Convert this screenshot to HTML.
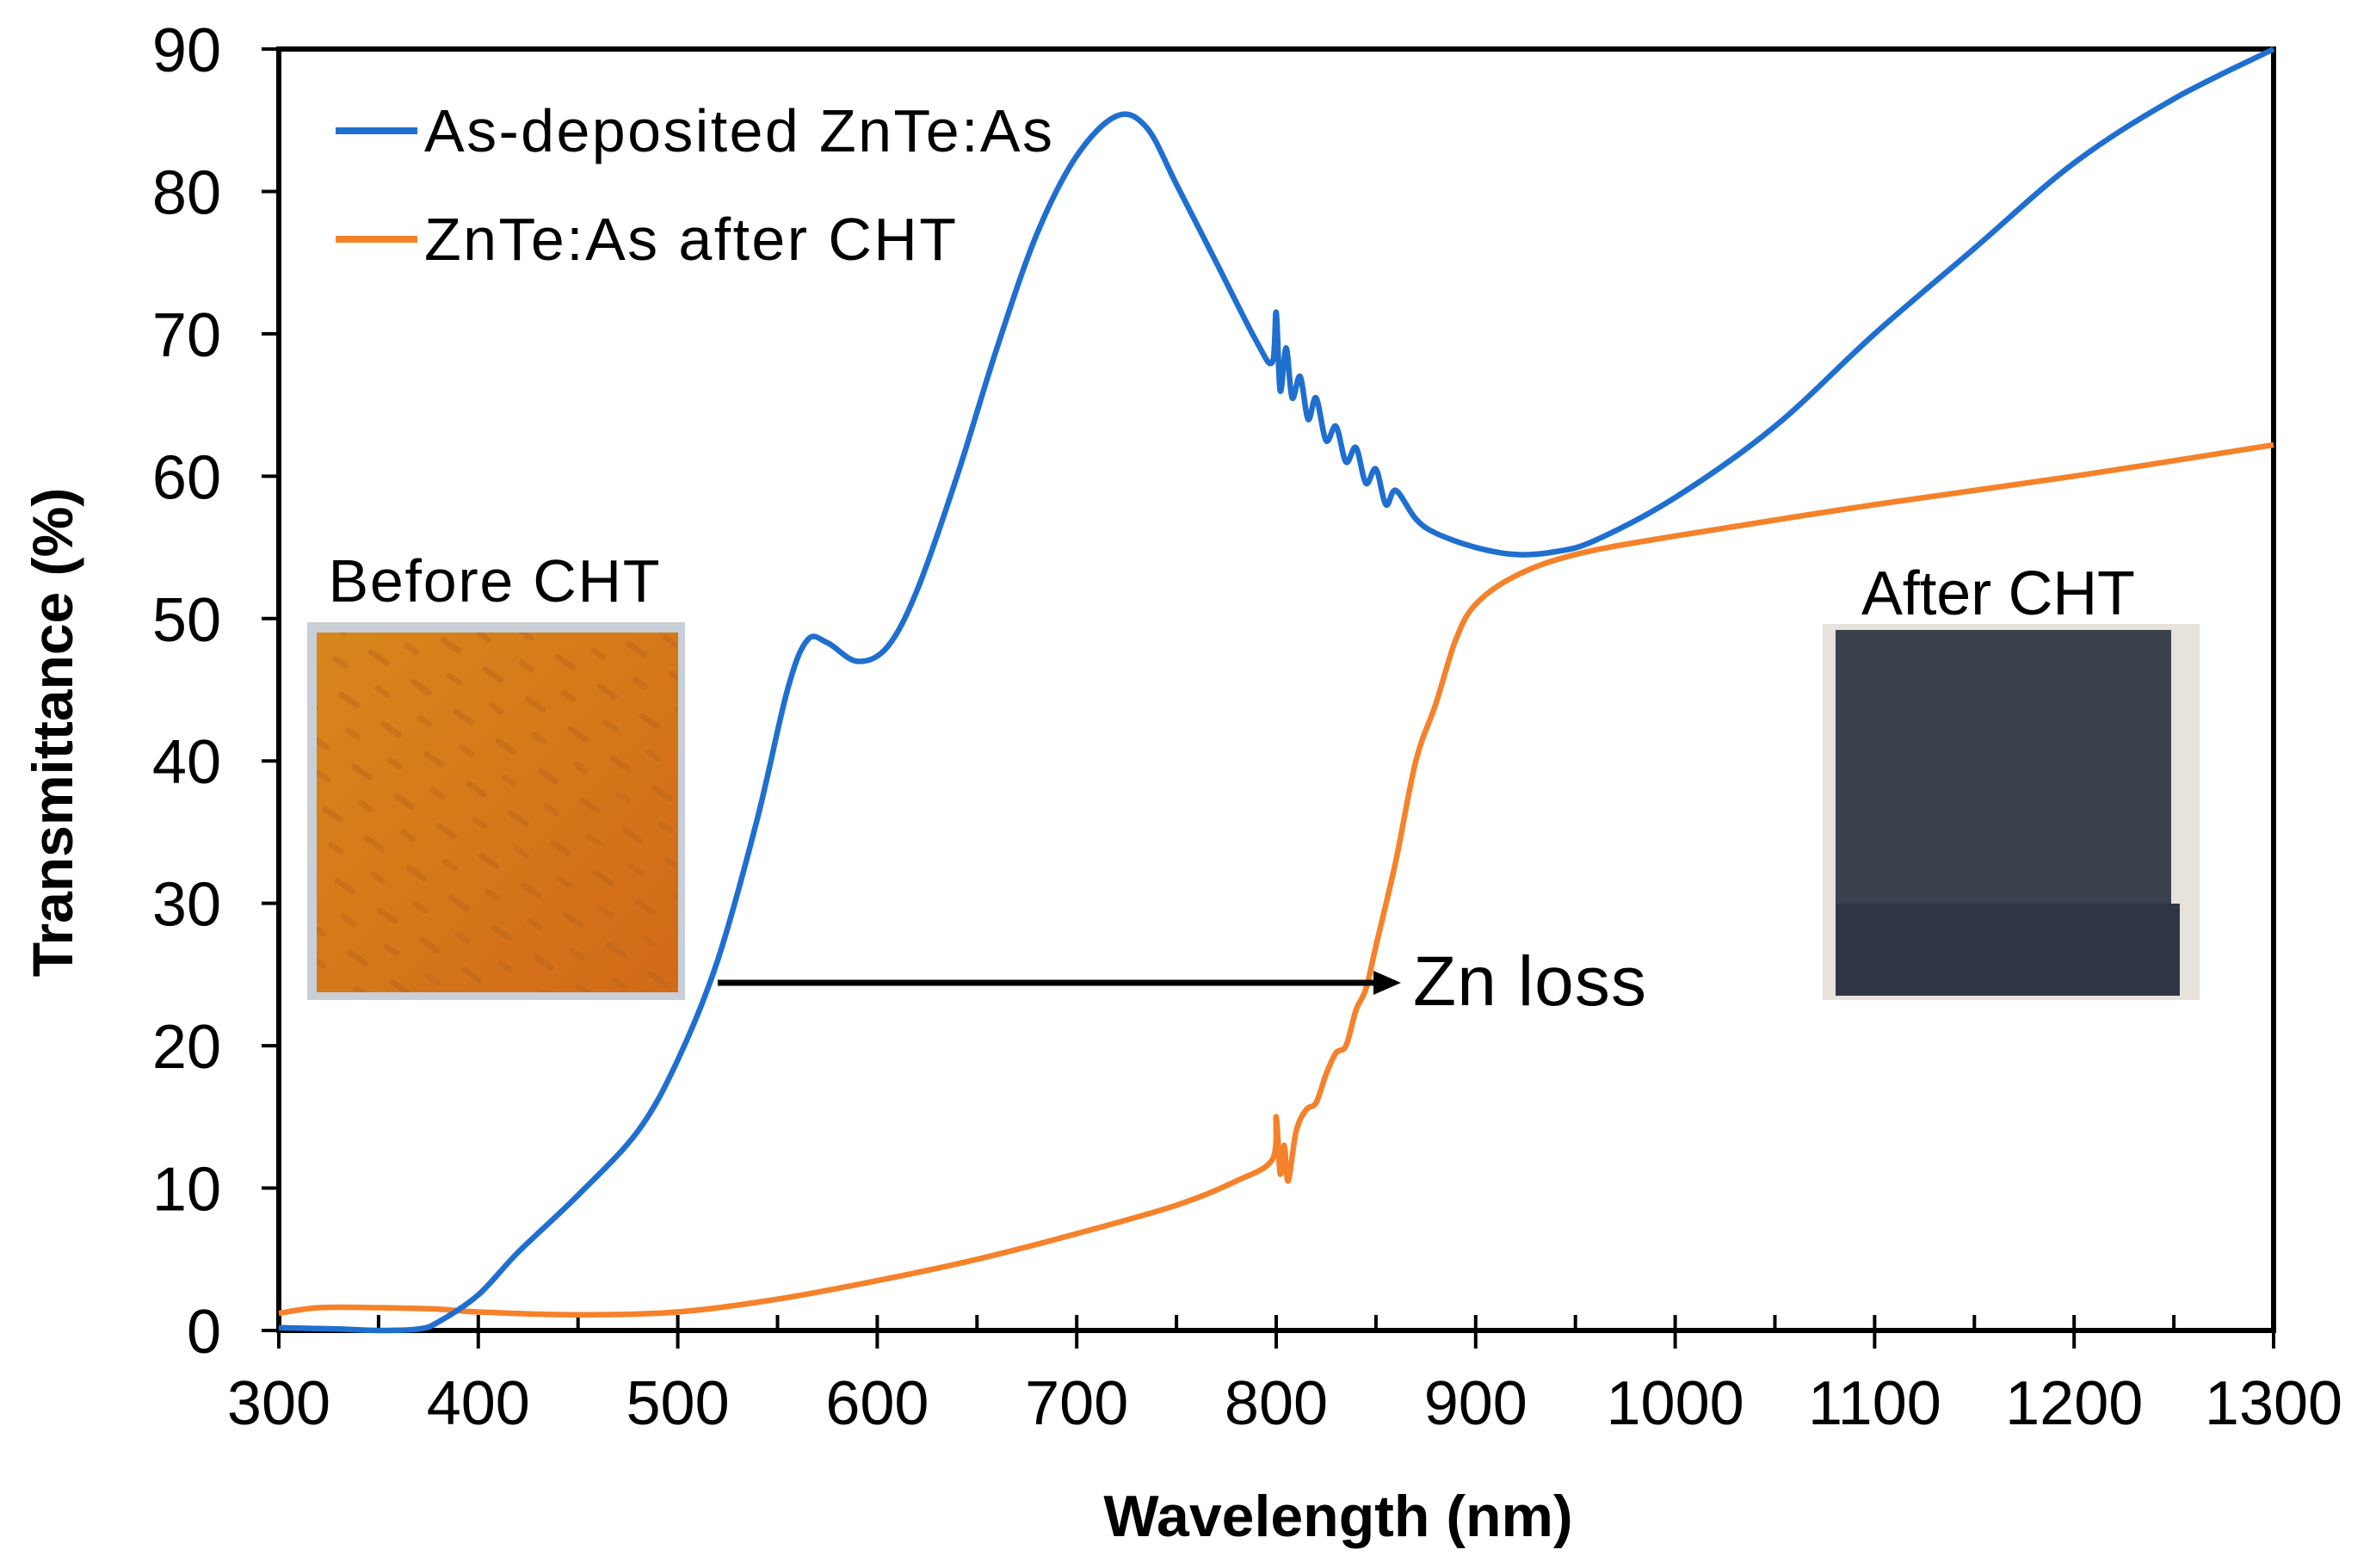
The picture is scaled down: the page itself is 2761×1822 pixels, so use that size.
<!DOCTYPE html>
<html><head><meta charset="utf-8"><style>
html,body{margin:0;padding:0;background:#fff;}
svg{display:block;font-family:"Liberation Sans",Arial,sans-serif;}
</style></head><body>
<svg id="chart" width="2761" height="1822" viewBox="0 0 2761 1822" xmlns="http://www.w3.org/2000/svg">
<defs>
<pattern id="streaks" width="60" height="60" patternUnits="userSpaceOnUse" patternTransform="rotate(35)">
<rect width="60" height="60" fill="none"/>
<rect x="5" y="10" width="28" height="7" rx="3" fill="#b8651a" opacity="0.45"/>
<rect x="35" y="40" width="20" height="7" rx="3" fill="#b8651a" opacity="0.4"/>
</pattern>
<linearGradient id="orangeGrad" x1="0" y1="0" x2="1" y2="1">
<stop offset="0" stop-color="#d8861c"/><stop offset="1" stop-color="#d26a18"/>
</linearGradient>
</defs>
<g id="photo-before">
<rect x="357" y="723" width="439" height="439" fill="#c9cfd6"/>
<rect x="368" y="735" width="420" height="418" fill="url(#orangeGrad)"/>
<rect x="368" y="735" width="420" height="418" fill="url(#streaks)"/>
</g>
<g id="photo-after">
<rect x="2118" y="725" width="438" height="437" fill="#e8e2dc"/>
<rect x="2133" y="732" width="390" height="425" fill="#3a424e"/>
<rect x="2133" y="1050" width="400" height="107" fill="#2e3646"/>
</g>
<text x="574" y="699" font-size="70" text-anchor="middle" textLength="385">Before CHT</text>
<text x="2322" y="714" font-size="72" text-anchor="middle" textLength="318">After CHT</text>
<g id="axes"></g>
<g id="series"></g>
<line x1="834" y1="1142" x2="1600" y2="1142" stroke="#000" stroke-width="7"/>
<polygon points="1596,1128 1628,1142 1596,1156" fill="#000"/>
<text x="1642" y="1168" font-size="82" textLength="271">Zn loss</text>
<g>
<line x1="390" y1="152" x2="485" y2="152" stroke="#1f6fd0" stroke-width="8"/>
<text x="493" y="176" font-size="70" textLength="730">As-deposited ZnTe:As</text>
<line x1="390" y1="278" x2="485" y2="278" stroke="#f5822a" stroke-width="8"/>
<text x="493" y="302" font-size="70" textLength="618">ZnTe:As after CHT</text>
</g>
<text x="1555" y="1785" font-size="68" font-weight="bold" text-anchor="middle">Wavelength (nm)</text>
<text transform="translate(84,851) rotate(-90)" font-size="66" font-weight="bold" text-anchor="middle">Transmittance (%)</text>
</svg>
<script>
const blueWl = [300,330,350,370,380,400,420,450,480,500,520,540,555,565,575,590,605,620,640,660,680,700,720,735,750,770,790,798,800,802,805,808,812,816,820,825,830,835,840,845,850,855,860,870,880,900,920,940,960,1000,1050,1100,1150,1200,1250,1300];
const blueT  = [0.2,0.1,0,0.1,0.6,2.5,5.5,9.5,14,19,26,36,45,48.5,48.3,47,48,52,60,69,77,82.5,85.3,84.5,80.5,75,69.5,68,71.5,66,69,65.5,67,64,65.5,62.5,63.5,61,62,59.5,60.5,58,59,57,56,55,54.5,54.7,55.5,58.5,63.5,70,76,82,86.5,90];
const orangeWl = [300,320,350,380,400,450,500,550,600,650,700,750,780,798,800,802,804,806,810,815,820,825,830,835,840,845,850,860,870,880,890,900,920,950,1000,1100,1200,1300];
const orangeT  = [1.2,1.6,1.6,1.5,1.3,1.1,1.3,2.2,3.5,5,6.8,8.8,10.5,12,15,11,13,10.5,14,15.5,16,18,19.5,20,22.5,24,27,33,40,44,48.5,51,53,54.5,55.8,58,60,62.2];
const xTicks = [300,400,500,600,700,800,900,1000,1100,1200,1300];
const yTicks = [0,10,20,30,40,50,60,70,80,90];

const NS = "http://www.w3.org/2000/svg";
const X0 = 324, X1 = 2642, Y0 = 1546, Y1 = 57;
function sx(w){ return X0 + (w - 300) / 1000 * (X1 - X0); }
function sy(t){ return Y0 - t / 90 * (Y0 - Y1); }
function mk(tag, attrs, parent){ const e = document.createElementNS(NS, tag); for (const k in attrs) e.setAttribute(k, attrs[k]); parent.appendChild(e); return e; }

const axes = document.getElementById('axes');
const frame = mk('path', {d:`M${X0},${Y1} L${X1},${Y1} L${X1},${Y0} L${X0},${Y0} Z`, fill:'none', stroke:'#000', 'stroke-width':6}, axes);


for (let w = 350; w < 1300; w += 100) {
  const m = mk('line', {x1:sx(w), x2:sx(w), y1:Y0-18, y2:Y0, stroke:'#000', 'stroke-width':4}, axes);
  
  
}
xTicks.forEach(w => {
  const t = mk('line', {x1:sx(w), x2:sx(w), y1:Y0-18, y2:Y0+21, stroke:'#000', 'stroke-width':4}, axes);
  
  
  const l = mk('text', {x:sx(w), y:1655, 'font-size':72, 'text-anchor':'middle'}, axes);
  l.textContent = w;
  
  
});
yTicks.forEach(v => {
  const t = mk('line', {x1:X0-20, x2:X0, y1:sy(v), y2:sy(v), stroke:'#000', 'stroke-width':4}, axes);
  
  
  const l = mk('text', {x:257, y:sy(v)+26, 'font-size':72, 'text-anchor':'end'}, axes);
  l.textContent = v;
  
  
});

const series = document.getElementById('series');
function drawLine(ws, ts, color, name){
  const P = ws.map((w,i)=>[sx(w), sy(ts[i])]);
  let d = 'M' + P[0][0].toFixed(1) + ',' + P[0][1].toFixed(1);
  for (let i = 0; i < P.length - 1; i++) {
    const p0 = P[Math.max(0,i-1)], p1 = P[i], p2 = P[i+1], p3 = P[Math.min(P.length-1,i+2)];
    const c1 = [p1[0]+(p2[0]-p0[0])/6, p1[1]+(p2[1]-p0[1])/6];
    const c2 = [p2[0]-(p3[0]-p1[0])/6, p2[1]-(p3[1]-p1[1])/6];
    d += ` C${c1[0].toFixed(1)},${c1[1].toFixed(1)} ${c2[0].toFixed(1)},${c2[1].toFixed(1)} ${p2[0].toFixed(1)},${p2[1].toFixed(1)}`;
  }
  const p = mk('path', {d:d, fill:'none', stroke:color, 'stroke-width':6.5, 'stroke-linejoin':'round'}, series);
  
  
}
drawLine(orangeWl, orangeT, '#f5822a', 'series-after-cht');
drawLine(blueWl, blueT, '#1f6fd0', 'series-as-deposited');
</script>
</body></html>
